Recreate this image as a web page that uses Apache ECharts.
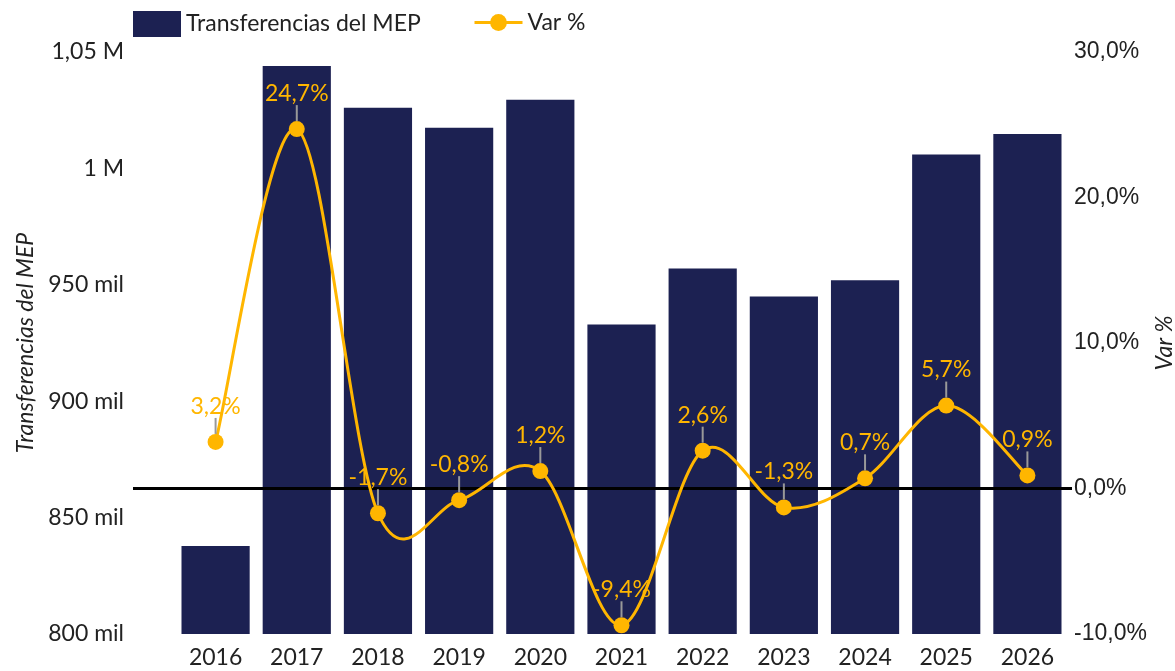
<!DOCTYPE html>
<html>
<head>
<meta charset="utf-8">
<script src="https://cdn.jsdelivr.net/npm/echarts@6/dist/echarts.min.js"></script>
<style>
    html, body { margin: 0; padding: 0; background: #fff; }
    #chart { width: 1175px; height: 671px; }
</style>
</head>
<body>
<div id="chart"></div>
<script>
var years = ["2016", "2017", "2018", "2019", "2020", "2021", "2022", "2023", "2024", "2025", "2026"];
var transferencias = [837800, 1044000, 1026000, 1017500, 1029500, 933000, 957000, 945000, 952000, 1006000, 1014800];
var varPct = [3.2, 24.7, -1.7, -0.8, 1.2, -9.4, 2.6, -1.3, 0.7, 5.7, 0.9];

var barColor = "#1C2152";
var lineColor = "#FFB600";
var textColor = "#222";

function fmtPct(v, digits) {
    return v.toFixed(digits).replace(".", ",") + "%";
}

function fmtMoney(v) {
    if (v >= 1000000) {
        return (v / 1000000).toString().replace(".", ",") + " M";
    }
    return v / 1000 + " mil";
}

// catmull-rom curve through the points, the built in smooth clamps overshoot
function renderCurve(params, api) {
    if (params.dataIndex !== 0) return;
    var pts = varPct.map(function (v, i) {
        return api.coord([i, v]);
    });
    var d = "M" + pts[0][0] + "," + pts[0][1];
    for (var i = 0; i < pts.length - 1; i++) {
        var p0 = pts[i - 1] || pts[i];
        var p1 = pts[i];
        var p2 = pts[i + 1];
        var p3 = pts[i + 2] || pts[i + 1];
        var c1x = p1[0] + (p2[0] - p0[0]) / 6;
        var c1y = p1[1] + (p2[1] - p0[1]) / 6;
        var c2x = p2[0] - (p3[0] - p1[0]) / 6;
        var c2y = p2[1] - (p3[1] - p1[1]) / 6;
        d += " C" + c1x + "," + c1y + " " + c2x + "," + c2y + " " + p2[0] + "," + p2[1];
    }
    return {
        type: "path",
        shape: { pathData: d },
        style: {
            fill: "none",
            stroke: lineColor,
            lineWidth: 3,
        },
    };
}

var legendText = {
    fontFamily: "Lato",
    fontSize: 23,
    color: textColor,
};

var option = {
    animation: false,
    legend: [
        {
            left: 128,
            top: 6,
            itemWidth: 48,
            itemHeight: 26,
            textStyle: legendText,
            data: [{ name: "Transferencias del MEP", icon: "rect" }],
        },
        {
            left: 468,
            top: 6,
            itemWidth: 48,
            itemHeight: 21,
            textStyle: legendText,
            lineStyle: {
                width: 3,
                color: lineColor,
                opacity: 1,
            },
            data: [{ name: "Var %" }],
        },
    ],
    grid: {
        left: 175,
        right: 107,
        top: 52,
        bottom: 37,
        outerBoundsMode: "none",
    },
    xAxis: {
        type: "category",
        data: years,
        axisLine: { show: false },
        axisTick: { show: false },
        axisLabel: {
            margin: 12,
            fontFamily: "Lato",
            fontSize: 23,
            color: textColor,
        },
    },
    yAxis: [
        {
            type: "value",
            min: 800000,
            max: 1050000,
            interval: 50000,
            name: "Transferencias del MEP",
            nameLocation: "middle",
            nameGap: 138,
            nameMoveOverlap: false,
            nameTextStyle: {
                fontFamily: "Lato",
                fontStyle: "italic",
                fontSize: 23,
                color: textColor,
            },
            splitLine: { show: false },
            axisLabel: {
                margin: 51,
                fontFamily: "Lato",
                fontSize: 23,
                color: textColor,
                formatter: fmtMoney,
            },
        },
        {
            type: "value",
            min: -10,
            max: 30,
            interval: 10,
            name: "Var %",
            nameLocation: "middle",
            nameGap: 85,
            nameMoveOverlap: false,
            nameTextStyle: {
                fontFamily: "Lato",
                fontStyle: "italic",
                fontSize: 23,
                color: textColor,
            },
            splitLine: { show: false },
            axisLabel: {
                margin: 6,
                fontFamily: "Liberation Sans",
                fontSize: 23,
                color: textColor,
                formatter: function (v) {
                    return fmtPct(v, 1);
                },
            },
        },
    ],
    series: [
        {
            name: "Transferencias del MEP",
            type: "bar",
            yAxisIndex: 0,
            barCategoryGap: "16%",
            itemStyle: {
                color: barColor,
            },
            z: 2,
            data: transferencias,
        },
        {
            name: "curve",
            type: "custom",
            yAxisIndex: 1,
            renderItem: renderCurve,
            silent: true,
            z: 4,
            data: varPct,
        },
        {
            name: "Var %",
            type: "line",
            yAxisIndex: 1,
            symbol: "circle",
            symbolSize: 16,
            lineStyle: {
                width: 0,
                opacity: 0,
            },
            itemStyle: {
                color: lineColor,
            },
            label: {
                show: true,
                position: "top",
                distance: 0,
                formatter: function (p) {
                    return "{v|" + fmtPct(p.value, 1) + "}\n{l|}";
                },
                rich: {
                    v: {
                        fontFamily: "Lato",
                        fontSize: 23,
                        color: lineColor,
                        align: "center",
                    },
                    l: {
                        width: 2,
                        height: 16,
                        backgroundColor: "#999",
                        align: "center",
                    },
                },
            },
            z: 5,
            data: varPct,
        },
    ],
};

var chart = echarts.init(document.getElementById("chart"));
chart.setOption(option);

// zero line on the right axis, a bit wider than the plot
var zeroY = chart.convertToPixel({ yAxisIndex: 1 }, 0);
chart.setOption({
    graphic: [
        {
            type: "line",
            z: 3,
            silent: true,
            shape: { x1: 133, y1: zeroY, x2: 1072, y2: zeroY },
            style: { stroke: "#000", lineWidth: 3 },
        },
    ],
});
</script>
</body>
</html>
